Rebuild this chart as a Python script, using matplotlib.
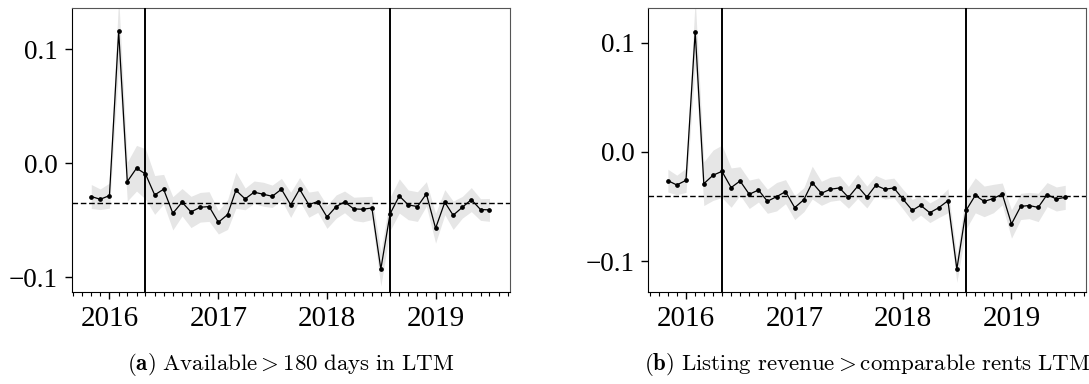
import numpy as np
import pandas as pd
import matplotlib
matplotlib.use("Agg")
import matplotlib.pyplot as plt
import matplotlib.dates as mdates
from matplotlib.ticker import FixedLocator, FuncFormatter

plt.rcParams["mathtext.fontset"] = "cm"

# Monthly estimates, Nov 2015 - Jul 2019
months = pd.date_range("2015-11-01", "2019-07-01", freq="MS")

est_a = [-0.0292, -0.0316, -0.0284, 0.1155, -0.0161, -0.0044, -0.0094, -0.0278,
         -0.0228, -0.0439, -0.0342, -0.0427, -0.0386, -0.0380, -0.0518, -0.0450,
         -0.0237, -0.0313, -0.0254, -0.0272, -0.0290, -0.0228, -0.0365, -0.0228,
         -0.0363, -0.0336, -0.0471, -0.0380, -0.0339, -0.0400, -0.0404, -0.0392,
         -0.0927, -0.0444, -0.0287, -0.0365, -0.0380, -0.0269, -0.0570, -0.0342,
         -0.0456, -0.0386, -0.0319, -0.0406, -0.0409]
ci_a = [0.0105, 0.0090, 0.0110, 0.0300, 0.0170, 0.0200, 0.0220, 0.0170,
        0.0130, 0.0146, 0.0120, 0.0137, 0.0130, 0.0130, 0.0102, 0.0130,
        0.0158, 0.0095, 0.0098, 0.0105, 0.0098, 0.0095, 0.0110, 0.0102,
        0.0110, 0.0095, 0.0100, 0.0102, 0.0095, 0.0102, 0.0110, 0.0102,
        0.0150, 0.0146, 0.0150, 0.0130, 0.0130, 0.0107, 0.0130, 0.0110,
        0.0124, 0.0095, 0.0105, 0.0095, 0.0100]
mean_a = -0.0348

est_b = [-0.0262, -0.0302, -0.0259, 0.1101, -0.0290, -0.0213, -0.0177, -0.0326,
         -0.0265, -0.0387, -0.0348, -0.0451, -0.0409, -0.0363, -0.0509, -0.0436,
         -0.0280, -0.0378, -0.0341, -0.0329, -0.0415, -0.0314, -0.0412, -0.0305,
         -0.0341, -0.0329, -0.0433, -0.0534, -0.0488, -0.0556, -0.0510, -0.0446,
         -0.1072, -0.0535, -0.0397, -0.0452, -0.0426, -0.0384, -0.0659, -0.0498,
         -0.0490, -0.0507, -0.0390, -0.0430, -0.0415]
ci_b = [0.0104, 0.0090, 0.0110, 0.0300, 0.0200, 0.0230, 0.0240, 0.0180,
        0.0130, 0.0130, 0.0110, 0.0110, 0.0130, 0.0110, 0.0110, 0.0110,
        0.0150, 0.0110, 0.0110, 0.0110, 0.0100, 0.0110, 0.0100, 0.0090,
        0.0090, 0.0090, 0.0090, 0.0100, 0.0090, 0.0090, 0.0090, 0.0110,
        0.0120, 0.0170, 0.0160, 0.0140, 0.0130, 0.0100, 0.0130, 0.0120,
        0.0120, 0.0130, 0.0110, 0.0110, 0.0110]
mean_b = -0.0400

event_dates = ["2016-05-01", "2018-08-01"]
y_ticks = [-0.1, 0.0, 0.1]
captions = [r"$\mathbf{(a)}\ \mathrm{Available} > \mathrm{180\ days\ in\ LTM}$",
            r"$\mathbf{(b)}\ \mathrm{Listing\ revenue} > \mathrm{comparable\ rents\ LTM}$"]

fig = plt.figure(figsize=(10.89, 3.84), dpi=100)
ax_a = fig.add_axes([0.0658, 0.2388, 0.4025, 0.7396])
ax_b = fig.add_axes([0.5953, 0.2388, 0.4017, 0.7396])

panels = [(ax_a, est_a, ci_a, mean_a, (-0.1131, 0.1357)),
          (ax_b, est_b, ci_b, mean_b, (-0.1284, 0.1315))]

fmt = FuncFormatter(lambda v, p: f"{v:.1f}".replace("-", "\u2212"))

for ax, est, ci, mean, ylim in panels:
    e = np.array(est)
    c = np.array(ci)
    ax.fill_between(months, e - c, e + c, color="#e6e6e6", lw=0, zorder=1)
    ax.plot(months, e, color="black", lw=0.9, marker="o", ms=2.4, zorder=3)
    ax.axhline(mean, color="black", lw=1.0, ls=(0, (4, 2)), zorder=2)
    for d in event_dates:
        ax.axvline(pd.Timestamp(d), color="black", lw=1.4, zorder=4)
    ax.set_xlim(pd.Timestamp("2015-08-27"), pd.Timestamp("2019-09-08"))
    ax.set_ylim(*ylim)
    ax.xaxis.set_major_locator(mdates.YearLocator())
    ax.xaxis.set_major_formatter(mdates.DateFormatter("%Y"))
    ax.xaxis.set_minor_locator(mdates.MonthLocator())
    ax.yaxis.set_major_locator(FixedLocator(y_ticks))
    ax.yaxis.set_major_formatter(fmt)
    ax.tick_params(axis="x", which="major", length=5, width=1, pad=5)
    ax.tick_params(axis="x", which="minor", length=3, width=0.8)
    ax.tick_params(axis="y", which="major", length=5, width=1, pad=5)
    for lab in ax.get_xticklabels():
        lab.set_fontfamily("Liberation Serif")
        lab.set_fontsize(21)
    for lab in ax.get_yticklabels():
        lab.set_fontfamily("Liberation Serif")
        lab.set_fontsize(19.5)
    for side in ["top", "right"]:
        ax.spines[side].set_color("#555555")
    for side in ["left", "bottom"]:
        ax.spines[side].set_color("black")

# Sub-captions centred under each panel
for ax, cap in zip([ax_a, ax_b], captions):
    bb = ax.get_position()
    fig.text((bb.x0 + bb.x1) / 2, 1 - 364 / 384, cap,
             ha="center", va="center", fontsize=16.5)

fig.savefig("out.png", dpi=100)
